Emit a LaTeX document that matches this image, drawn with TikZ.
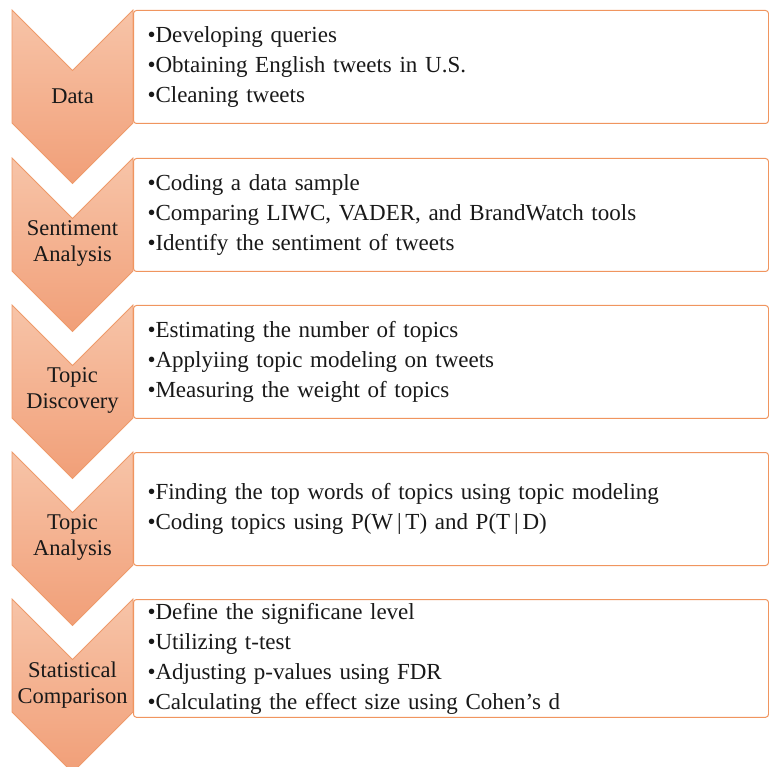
\documentclass[tikz,border=0pt]{standalone}
\usepackage{fontspec}
\setmainfont{Liberation Serif}
\usetikzlibrary{positioning}

\definecolor{chevtop}{HTML}{F7C4A8}
\definecolor{chevbot}{HTML}{F19F78}
\definecolor{chevline}{HTML}{EE9A6A}
\definecolor{boxline}{HTML}{F0955F}

\begin{document}
\begin{tikzpicture}[x=1pt, y=-1pt,
  chevron/.style={top color=chevtop, bottom color=chevbot, draw=chevline, line width=0.8pt},
  stage/.style={font=\fontsize{22.5}{26}\selectfont, align=center, text=black!90},
  steps/.style={draw=boxline, line width=1pt, rounded corners=3pt, fill=white, anchor=north west,
    minimum width=635pt, minimum height=113pt, text width=607pt, inner xsep=14pt, align=left,
    font=\fontsize{23}{30}\selectfont, text=black!90}]
  \useasboundingbox (0,0) rectangle (769,767);

  % chevrons
  \foreach \y in {10,158,305,452,599}
    \path[chevron] (12,\y) -- (72.5,\y+60.5) -- (133,\y) -- (133,\y+113)
                   -- (72.5,\y+173.5) -- (12,\y+113) -- cycle;

  \node[stage] (data) at (72.5,96)  {Data};
  \node[stage] (sent) at (72.5,243) {Sentiment\\Analysis};
  \node[stage] (disc) at (72.5,390) {Topic\\Discovery};
  \node[stage] (anal) at (72.5,537) {Topic\\Analysis};
  \node[stage] (stat) at (72.5,685) {Statistical\\Comparison};

  % boxes
  \node[steps] (b1) at (133,10)  {\textbullet Developing queries\\
                                 \textbullet Obtaining English tweets in U.S.\\
                                 \textbullet Cleaning tweets};
  \node[steps] (b2) at (133,158) {\textbullet Coding a data sample\\
                                 \textbullet Comparing LIWC, VADER, and BrandWatch tools\\
                                 \textbullet Identify the sentiment of tweets};
  \node[steps] (b3) at (133,305) {\textbullet Estimating the number of topics\\
                                 \textbullet Applyiing topic modeling on tweets\\
                                 \textbullet Measuring the weight of topics};
  \node[steps] (b4) at (133,452) {\textbullet Finding the top words of topics using topic modeling\\
                                 \textbullet Coding topics using P(W\,|\,T) and P(T\,|\,D)};
  \node[steps] (b5) at (133,599) {\textbullet Define the significane level\\
                                 \textbullet Utilizing t-test\\
                                 \textbullet Adjusting p-values using FDR\\
                                 \textbullet Calculating the effect size using Cohen's d};
\end{tikzpicture}
\end{document}
